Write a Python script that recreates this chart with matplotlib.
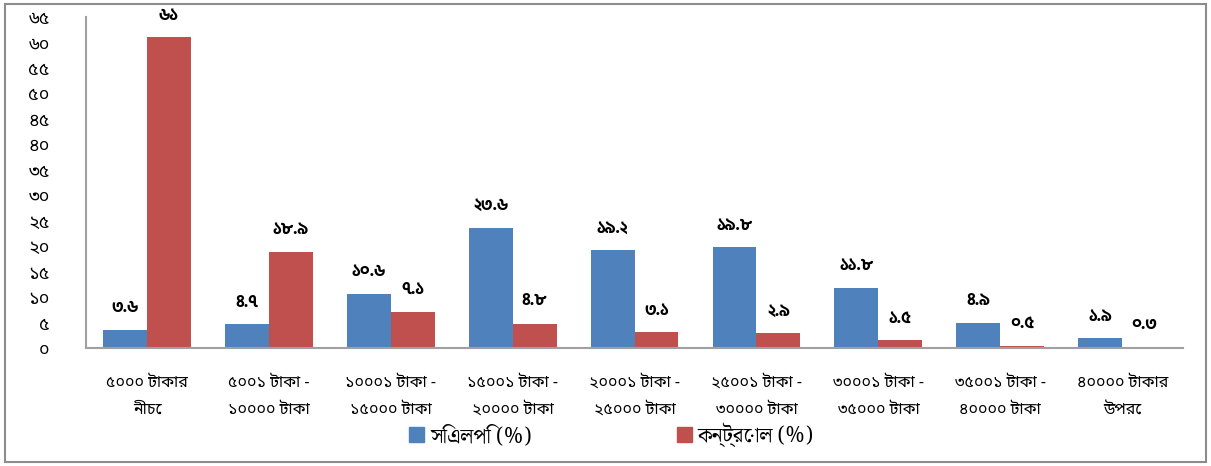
import matplotlib
matplotlib.use('Agg')
import numpy as np
from matplotlib import pyplot as plt
from matplotlib.patches import Rectangle, Patch
from matplotlib.ticker import FuncFormatter, MultipleLocator

plt.rcParams['font.family'] = ['Noto Sans Bengali', 'DejaVu Sans']

categories = ['৫০০০ টাকার\nনীচে', '৫০০১ টাকা -\n১০০০০ টাকা', '১০০০১ টাকা -\n১৫০০০ টাকা',
              '১৫০০১ টাকা -\n২০০০০ টাকা', '২০০০১ টাকা -\n২৫০০০ টাকা', '২৫০০১ টাকা -\n৩০০০০ টাকা',
              '৩০০০১ টাকা -\n৩৫০০০ টাকা', '৩৫০০১ টাকা -\n৪০০০০ টাকা', '৪০০০০ টাকার\nউপরে']
clp = [3.6, 4.7, 10.6, 23.6, 19.2, 19.8, 11.8, 4.9, 1.9]
control = [61, 18.9, 7.1, 4.8, 3.1, 2.9, 1.5, 0.5, 0.3]
series_names = ['সিএলপি (%)', 'কন্ট্রোল (%)']

BN = str.maketrans('0123456789', '০১২৩৪৫৬৭৮৯')

def bn(v):
    if float(v).is_integer():
        s = '%d' % v
    else:
        s = '%.1f' % v
    return s.translate(BN)

blue = '#4F81BD'
red = '#C0504D'

fig = plt.figure(figsize=(12.11, 4.66), dpi=100)
ax = fig.add_axes([0.071, 0.253, 0.906, 0.7105])

x = np.arange(len(categories))
w = 0.36
b1 = ax.bar(x - w/2, clp, w, color=blue)
b2 = ax.bar(x + w/2, control, w, color=red)

# value labels above the bars
for bars, vals in [(b1, clp), (b2, control)]:
    for r, v in zip(bars, vals):
        ax.annotate(bn(v), (r.get_x() + r.get_width()/2, v), xytext=(0, 16),
                    textcoords='offset points', ha='center', va='center',
                    fontsize=12, fontweight='bold',
                    family=['Hind Siliguri', 'DejaVu Sans'])

ax.set_xlim(-0.5, len(categories) - 0.5)
ax.set_ylim(0, 65)
ax.yaxis.set_major_locator(MultipleLocator(5))
ax.yaxis.set_major_formatter(FuncFormatter(lambda v, p: bn(int(v))))
ax.set_xticks(x)
ax.set_xticklabels(categories, fontsize=11.5, linespacing=1.95)
ax.tick_params(axis='x', length=0, pad=19)
ax.tick_params(axis='y', length=0, pad=26, labelsize=13)
for lab in ax.get_yticklabels():
    lab.set_horizontalalignment('right')

for s in ['top', 'right']:
    ax.spines[s].set_visible(False)
for s in ['left', 'bottom']:
    ax.spines[s].set_color('#A0A0A0')
    ax.spines[s].set_linewidth(1.5)

handles = [Patch(color=blue), Patch(color=red)]
fig.legend(handles, series_names, loc='center', bbox_to_anchor=(0.505, 0.067),
           ncol=2, frameon=False, handlelength=0.7, handleheight=0.7,
           handletextpad=0.3, columnspacing=7,
           prop={'family': ['Noto Serif Bengali', 'DejaVu Serif'], 'size': 15})

fig.patches.append(Rectangle((0.004, 0.008), 0.992, 0.984, transform=fig.transFigure,
                             fill=False, edgecolor='#8C8C8C', linewidth=1.5))

fig.savefig('out.png', dpi=100)
